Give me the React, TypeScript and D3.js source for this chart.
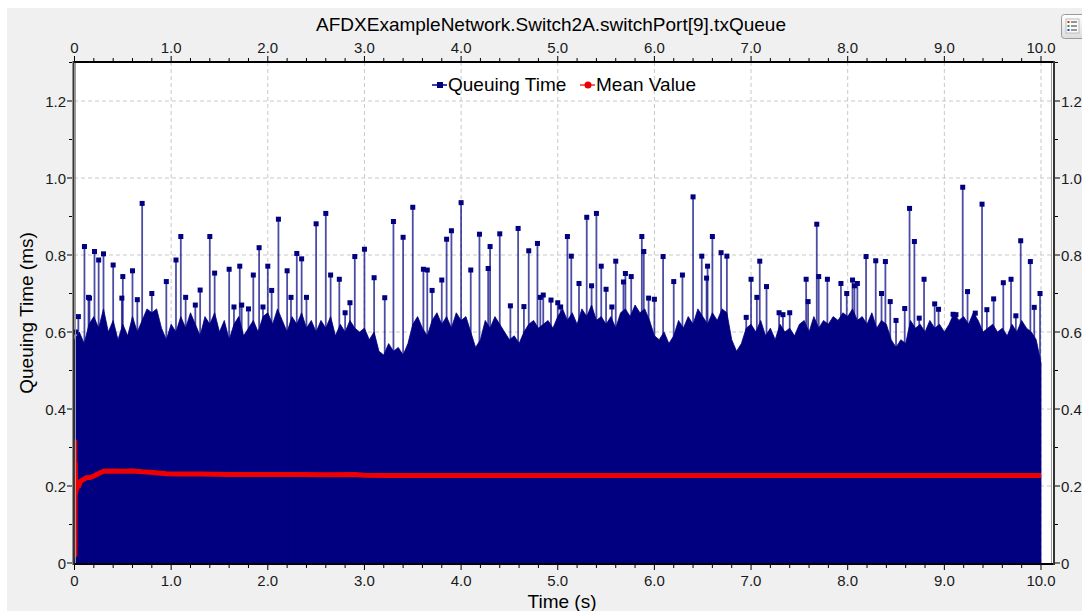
import React from 'react';
import * as d3 from 'd3';

const TITLE = 'AFDXExampleNetwork.Switch2A.switchPort[9].txQueue';
const X_LABEL = 'Time (s)';
const Y_LABEL = 'Queuing Time (ms)';
const SERIES_NAMES = ['Queuing Time', 'Mean Value'];

const X_TICKS = [0, 1, 2, 3, 4, 5, 6, 7, 8, 9, 10];
const X_TICK_LABELS = ['0', '1.0', '2.0', '3.0', '4.0', '5.0', '6.0', '7.0', '8.0', '9.0', '10.0'];
const Y_TICKS = [0, 0.2, 0.4, 0.6, 0.8, 1.0, 1.2];
const Y_TICK_LABELS = ['0', '0.2', '0.4', '0.6', '0.8', '1.0', '1.2'];

// Dense body of the queuing-time series: top of the packed samples, one value every 0.05 s
const CLUSTER_STEP = 0.05;
const clusterValues = [
  0.58, 0.60, 0.57, 0.62, 0.64, 0.61, 0.66, 0.60, 0.63, 0.58,
  0.62, 0.59, 0.64, 0.60, 0.63, 0.66, 0.65, 0.66, 0.61, 0.58,
  0.62, 0.60, 0.64, 0.61, 0.65, 0.62, 0.59, 0.64, 0.62, 0.65,
  0.60, 0.63, 0.58, 0.62, 0.64, 0.59, 0.61, 0.63, 0.60, 0.64,
  0.65, 0.62, 0.66, 0.63, 0.60, 0.64, 0.62, 0.65, 0.61, 0.63,
  0.60, 0.63, 0.61, 0.64, 0.59, 0.62, 0.60, 0.63, 0.61, 0.60,
  0.61, 0.58, 0.60, 0.55, 0.54, 0.57, 0.55, 0.56, 0.54, 0.57,
  0.62, 0.64, 0.61, 0.59, 0.63, 0.65, 0.62, 0.64, 0.61, 0.65,
  0.63, 0.64, 0.60, 0.56, 0.58, 0.63, 0.61, 0.64, 0.62, 0.60,
  0.58, 0.59, 0.57, 0.60, 0.62, 0.63, 0.61, 0.62, 0.63, 0.61,
  0.64, 0.66, 0.63, 0.65, 0.62, 0.66, 0.64, 0.67, 0.63, 0.64,
  0.62, 0.64, 0.61, 0.65, 0.66, 0.64, 0.67, 0.65, 0.66, 0.63,
  0.59, 0.58, 0.60, 0.57, 0.59, 0.63, 0.61, 0.64, 0.62, 0.66,
  0.64, 0.62, 0.65, 0.63, 0.66, 0.65, 0.58, 0.55, 0.57, 0.61,
  0.62, 0.60, 0.63, 0.59, 0.61, 0.58, 0.62, 0.60, 0.61, 0.59,
  0.62, 0.63, 0.60, 0.64, 0.61, 0.63, 0.62, 0.64, 0.63, 0.65,
  0.64, 0.66, 0.63, 0.64, 0.62, 0.65, 0.61, 0.63, 0.62, 0.58,
  0.56, 0.58, 0.57, 0.63, 0.61, 0.62, 0.60, 0.63, 0.61, 0.62,
  0.60, 0.62, 0.65, 0.63, 0.64, 0.62, 0.65, 0.63, 0.60, 0.61,
  0.62, 0.60, 0.61, 0.59, 0.62, 0.60, 0.63, 0.61, 0.60, 0.58,
  0.52,
];

// Individual spikes standing above the dense body
const spikeTimes = [
  0.01, 0.04, 0.103, 0.145, 0.155, 0.207, 0.25, 0.30, 0.40, 0.49, 0.50, 0.60, 0.65, 0.70, 0.80, 0.95,
  1.05, 1.10, 1.15, 1.25, 1.30, 1.40, 1.45, 1.60, 1.65, 1.71, 1.73, 1.80, 1.85, 1.91, 1.95,
  2.00, 2.04, 2.11, 2.20, 2.24, 2.30, 2.35, 2.40, 2.50, 2.60, 2.65, 2.74, 2.80, 2.85, 2.90,
  3.00, 3.10, 3.21, 3.30, 3.40, 3.50, 3.61, 3.65, 3.70, 3.80, 3.85, 3.90,
  4.00, 4.10, 4.19, 4.28, 4.30, 4.40, 4.51, 4.59, 4.65, 4.70, 4.79, 4.82, 4.85, 4.93,
  5.00, 5.03, 5.10, 5.14, 5.22, 5.30, 5.35, 5.40, 5.45, 5.50, 5.56, 5.60, 5.68, 5.70, 5.76, 5.87, 5.89, 5.94,
  6.00, 6.09, 6.20, 6.29, 6.40, 6.49, 6.54, 6.55, 6.60, 6.69, 6.75, 6.95,
  7.00, 7.06, 7.09, 7.16, 7.29, 7.33, 7.40, 7.57, 7.59, 7.68, 7.70, 7.79, 7.89, 7.93, 7.99,
  8.05, 8.07, 8.10, 8.19, 8.29, 8.35, 8.39, 8.44, 8.50, 8.59, 8.64, 8.69, 8.74, 8.79, 8.90, 8.94,
  9.09, 9.12, 9.19, 9.24, 9.32, 9.39, 9.44, 9.51, 9.61, 9.69, 9.74, 9.79, 9.89, 9.93, 9.99,
];
const spikeValues = [
  0.60, 0.64, 0.822, 0.69, 0.688, 0.809, 0.787, 0.803, 0.774, 0.688, 0.744, 0.759, 0.684, 0.934, 0.70, 0.731,
  0.787, 0.848, 0.69, 0.67, 0.709, 0.848, 0.753, 0.763, 0.665, 0.771, 0.67, 0.66, 0.748, 0.819, 0.665,
  0.771, 0.708, 0.893, 0.759, 0.69, 0.804, 0.79, 0.69, 0.881, 0.908, 0.748, 0.737, 0.65, 0.676, 0.796,
  0.815, 0.741, 0.689, 0.887, 0.846, 0.924, 0.763, 0.761, 0.708, 0.735, 0.841, 0.863,
  0.936, 0.761, 0.854, 0.765, 0.822, 0.855, 0.668, 0.869, 0.666, 0.811, 0.830, 0.69, 0.696, 0.683,
  0.676, 0.665, 0.848, 0.797, 0.726, 0.898, 0.72, 0.908, 0.771, 0.711, 0.665, 0.784, 0.73, 0.752, 0.744, 0.848, 0.809, 0.688,
  0.685, 0.796, 0.731, 0.748, 0.951, 0.797, 0.74, 0.771, 0.848, 0.806, 0.797, 0.638,
  0.737, 0.690, 0.784, 0.718, 0.650, 0.645, 0.650, 0.737, 0.679, 0.880, 0.744, 0.737, 0.623, 0.726, 0.70,
  0.735, 0.72, 0.726, 0.796, 0.785, 0.70, 0.783, 0.679, 0.63, 0.661, 0.921, 0.835, 0.636, 0.737, 0.673, 0.659,
  0.646, 0.645, 0.976, 0.705, 0.649, 0.932, 0.658, 0.686, 0.728, 0.737, 0.642, 0.837, 0.783, 0.664, 0.70,
];

// Running mean
const meanTimes = [
  0.002, 0.004, 0.006, 0.008, 0.012, 0.016, 0.02, 0.03, 0.045, 0.06, 0.08, 0.1, 0.13, 0.16, 0.2, 0.23,
  0.27, 0.3, 0.4, 0.5, 0.6, 0.7, 0.78, 0.9, 0.95, 1.1, 1.3, 1.6, 2.0, 2.33, 2.6, 2.9, 3.0, 3.2,
  3.5, 4.0, 5.0, 6.0, 7.0, 8.0, 9.0, 10.0,
];
const meanValues = [
  0.32, 0.02, 0.15, 0.26, 0.18, 0.21, 0.19, 0.205, 0.20, 0.212, 0.215, 0.218, 0.222, 0.222, 0.226, 0.23,
  0.235, 0.238, 0.239, 0.238, 0.239, 0.237, 0.236, 0.233, 0.232, 0.231, 0.231, 0.23, 0.23, 0.23, 0.229, 0.23, 0.228, 0.227,
  0.227, 0.227, 0.227, 0.227, 0.227, 0.227, 0.227, 0.227,
];

const FONT = "'Liberation Sans', Arial, Helvetica, sans-serif";
const NAVY = '#000080';
const RED = '#ee0000';

export default function App() {
  const W = 1082;
  const H = 611;
  const plotL = 74, plotR = 1053, plotT = 62, plotB = 564;
  const x = d3.scaleLinear().domain([0, 10]).range([74.5, 1041]);
  const y = d3.scaleLinear().domain([0, 1.2]).range([563, 101]);

  const minorX = d3.range(0, 10.001, 0.2);
  const minorY = d3.range(0, 1.301, 0.1);

  const clusterData = clusterValues.map((v, i) => [i * CLUSTER_STEP, v] as [number, number]);
  const area = d3.area<[number, number]>()
    .x(d => x(d[0]))
    .y0(y(0))
    .y1(d => y(d[1]));

  const meanData = meanTimes.map((t, i) => [t, meanValues[i]] as [number, number]);
  const meanLine = d3.line<[number, number]>().x(d => x(d[0])).y(d => y(d[1]));

  return (
    <svg width={W} height={H} style={{ position: 'absolute', left: 0, top: 0, display: 'block' }} fontFamily={FONT}>
      <defs>
        <clipPath id="plotClip">
          <rect x={plotL} y={plotT} width={plotR - plotL} height={plotB - plotT} />
        </clipPath>
        <linearGradient id="btnGrad" x1="0" y1="0" x2="0" y2="1">
          <stop offset="0" stopColor="#ffffff" />
          <stop offset="1" stopColor="#dcdcdc" />
        </linearGradient>
      </defs>
      <rect x={0} y={0} width={W} height={H} fill="#ffffff" />
      <rect x={7} y={8} width={W - 7} height={H - 8} fill="#f0f0f0" />
      <rect x={plotL} y={plotT} width={plotR - plotL} height={plotB - plotT} fill="#ffffff" />

      {/* grid */}
      <g stroke="#c8c8c8" strokeWidth={1} strokeDasharray="4,3">
        {X_TICKS.filter(t => t > 0).map(t => (
          <line key={'gx' + t} x1={x(t)} x2={x(t)} y1={plotT} y2={plotB} />
        ))}
        {Y_TICKS.filter(t => t > 0).map(t => (
          <line key={'gy' + t} x1={plotL} x2={plotR} y1={y(t)} y2={y(t)} />
        ))}
      </g>

      <g clipPath="url(#plotClip)">
        {/* dense body */}
        <path d={area(clusterData) || ''} fill={NAVY} stroke={NAVY} strokeWidth={0.8} />
        {/* spikes */}
        <g>
          {spikeTimes.map((t, i) => (
            <line key={'s' + i} x1={x(t)} x2={x(t)} y1={y(0)} y2={y(spikeValues[i])}
              stroke={NAVY} strokeOpacity={0.7} strokeWidth={1.8} />
          ))}
          {spikeTimes.map((t, i) => (
            <rect key={'m' + i} x={x(t) - 2.5} y={y(spikeValues[i]) - 2.5} width={5} height={5} fill={NAVY} />
          ))}
        </g>
        {/* mean */}
        <path d={meanLine(meanData) || ''} fill="none" stroke={RED} strokeWidth={5} strokeLinejoin="round" />
      </g>

      {/* axes lines */}
      <line x1={73} x2={1055} y1={62} y2={62} stroke="#000" strokeWidth={2} />
      <line x1={73} x2={1055} y1={564} y2={564} stroke="#000" strokeWidth={2} />
      <line x1={73.5} x2={73.5} y1={61} y2={565} stroke="#333" strokeWidth={2} />
      <line x1={75.5} x2={75.5} y1={63} y2={563} stroke="#999" strokeWidth={1} />
      <line x1={1051.5} x2={1051.5} y1={63} y2={563} stroke="#999" strokeWidth={1} />
      <line x1={1054} x2={1054} y1={61} y2={565} stroke="#333" strokeWidth={2} />

      {/* x ticks top & bottom */}
      <g stroke="#000" strokeWidth={1}>
        {minorX.map((t, i) => {
          const major = i % 5 === 0;
          const len = major ? 5 : 3;
          return (
            <g key={'tx' + i}>
              <line x1={x(t)} x2={x(t)} y1={61} y2={61 - len} />
              <line x1={x(t)} x2={x(t)} y1={565} y2={565 + len} />
            </g>
          );
        })}
      </g>
      {/* y ticks left & right */}
      <g stroke="#000" strokeWidth={1}>
        {minorY.map((v, i) => {
          const major = i % 2 === 0;
          const len = major ? 5 : 3;
          return (
            <g key={'ty' + i}>
              <line x1={72} x2={72 - len} y1={y(v)} y2={y(v)} />
              <line x1={1055} x2={1055 + len} y1={y(v)} y2={y(v)} />
            </g>
          );
        })}
      </g>

      <g fontSize={15} fill="#1a1a1a">
        {X_TICKS.map((t, i) => (
          <text key={'xl' + i} x={x(t)} y={53} textAnchor="middle">{X_TICK_LABELS[i]}</text>
        ))}
        {X_TICKS.map((t, i) => (
          <text key={'xb' + i} x={x(t)} y={586} textAnchor="middle">{X_TICK_LABELS[i]}</text>
        ))}
        {Y_TICKS.map((v, i) => (
          <text key={'yl' + i} x={66} y={y(v) + 5.5} textAnchor="end">{Y_TICK_LABELS[i]}</text>
        ))}
        {Y_TICKS.map((v, i) => (
          <text key={'yr' + i} x={1061} y={y(v) + 5.5} textAnchor="start">{Y_TICK_LABELS[i]}</text>
        ))}
      </g>

      {/* titles */}
      <text x={551} y={31} textAnchor="middle" fontSize={19} fill="#000">{TITLE}</text>
      <text x={562} y={608} textAnchor="middle" fontSize={19} fill="#000">{X_LABEL}</text>
      <text transform="translate(33,313) rotate(-90)" textAnchor="middle" fontSize={19} fill="#000">{Y_LABEL}</text>

      {/* legend */}
      <g>
        <line x1={432} x2={447} y1={85} y2={85} stroke="#4040a0" strokeWidth={2} />
        <rect x={437} y={82} width={6} height={6} fill={NAVY} />
        <text x={448} y={91} fontSize={19} fill="#000">{SERIES_NAMES[0]}</text>
        <line x1={580} x2={595} y1={85} y2={85} stroke="#f06060" strokeWidth={2} />
        <circle cx={588} cy={85} r={3.5} fill={RED} />
        <text x={596} y={91} fontSize={19} fill="#000">{SERIES_NAMES[1]}</text>
      </g>

      {/* options button top-right */}
      <g>
        <rect x={1061.5} y={14.5} width={24} height={24} rx={3} fill="url(#btnGrad)" stroke="#9a9a9a" />
        <rect x={1066} y={19} width={13} height={14} fill="#fafafa" stroke="#b0b0b0" strokeWidth={0.8} />
        <rect x={1067.5} y={21} width={2} height={2} fill="#e02020" />
        <rect x={1067.5} y={25} width={2} height={2} fill="#20a020" />
        <rect x={1067.5} y={29} width={2} height={2} fill="#2040e0" />
        <line x1={1071} x2={1077} y1={22} y2={22} stroke="#333" />
        <line x1={1071} x2={1077} y1={26} y2={26} stroke="#333" />
        <line x1={1071} x2={1077} y1={30} y2={30} stroke="#333" />
      </g>
    </svg>
  );
}
